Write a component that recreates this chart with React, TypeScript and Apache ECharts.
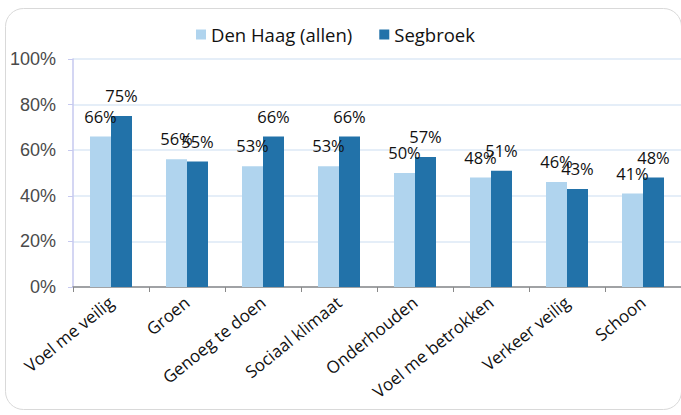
import React, { useEffect, useRef } from "react";
import * as echarts from "echarts";

const categories = [
  "Voel me veilig",
  "Groen",
  "Genoeg te doen",
  "Sociaal klimaat",
  "Onderhouden",
  "Voel me betrokken",
  "Verkeer veilig",
  "Schoon",
];
const denHaag = [66, 56, 53, 53, 50, 48, 46, 41];
const segbroek = [75, 55, 66, 66, 57, 51, 43, 48];
const seriesNames = ["Den Haag (allen)", "Segbroek"];
const yTicks = [0, 20, 40, 60, 80, 100];

export default function App() {
  const ref = useRef<HTMLDivElement>(null);
  useEffect(() => {
    if (!ref.current) return;
    const chart = echarts.init(ref.current, undefined, { renderer: "svg" });
    const labelStyle = {
      show: true,
      position: "top" as const,
      distance: 12,
      formatter: "{c}%",
      fontFamily: "Open Sans",
      fontSize: 16.5,
      color: "#111",
    };
    chart.setOption({
      animation: false,
      backgroundColor: "#fff",
      graphic: [
        {
          type: "rect",
          shape: { x: 5.5, y: 8.5, width: 676, height: 401, r: 18 },
          style: { fill: "none", stroke: "#d9d9d9", lineWidth: 1 },
          silent: true,
          z: -1,
        },
      ],
      legend: {
        data: seriesNames,
        left: 191,
        top: 20,
        itemWidth: 10,
        itemHeight: 10,
        itemGap: 27,
        icon: "rect",
        textStyle: { fontFamily: "Open Sans", fontSize: 18.5, color: "#111" },
      },
      grid: { left: 73, right: 0, top: 59, bottom: 128 },
      xAxis: {
        type: "category",
        data: categories,
        axisLine: { lineStyle: { color: "#898989", width: 1.5 } },
        axisTick: { show: true, length: 5, lineStyle: { color: "#898989" } },
        axisLabel: {
          rotate: 39,
          margin: 13,
          interval: 0,
          fontFamily: "Open Sans",
          fontSize: 17,
          color: "#111",
        },
      },
      yAxis: {
        type: "value",
        min: 0,
        max: 100,
        interval: 20,
        axisLine: { show: true, lineStyle: { color: "#c6c9ef", width: 1.5 } },
        axisTick: { show: true, length: 5, lineStyle: { color: "#c6c9ef" } },
        splitLine: { lineStyle: { color: "#dde9f6", width: 1.5 } },
        axisLabel: {
          margin: 17,
          formatter: (v: number) => (yTicks.includes(v) ? v + "%" : ""),
          fontFamily: "Liberation Sans",
          fontSize: 18,
          color: "#4a4a4a",
        },
      },
      series: [
        {
          name: seriesNames[0],
          type: "bar",
          data: denHaag,
          barWidth: 21,
          barGap: "0%",
          itemStyle: { color: "#b0d4ee" },
          label: labelStyle,
        },
        {
          name: seriesNames[1],
          type: "bar",
          data: segbroek,
          barWidth: 21,
          barGap: "0%",
          itemStyle: { color: "#2272a9" },
          label: labelStyle,
        },
      ],
    });
    return () => chart.dispose();
  }, []);
  return (
    <div
      ref={ref}
      style={{ position: "fixed", left: 0, top: 0, width: 681, height: 415 }}
    />
  );
}
